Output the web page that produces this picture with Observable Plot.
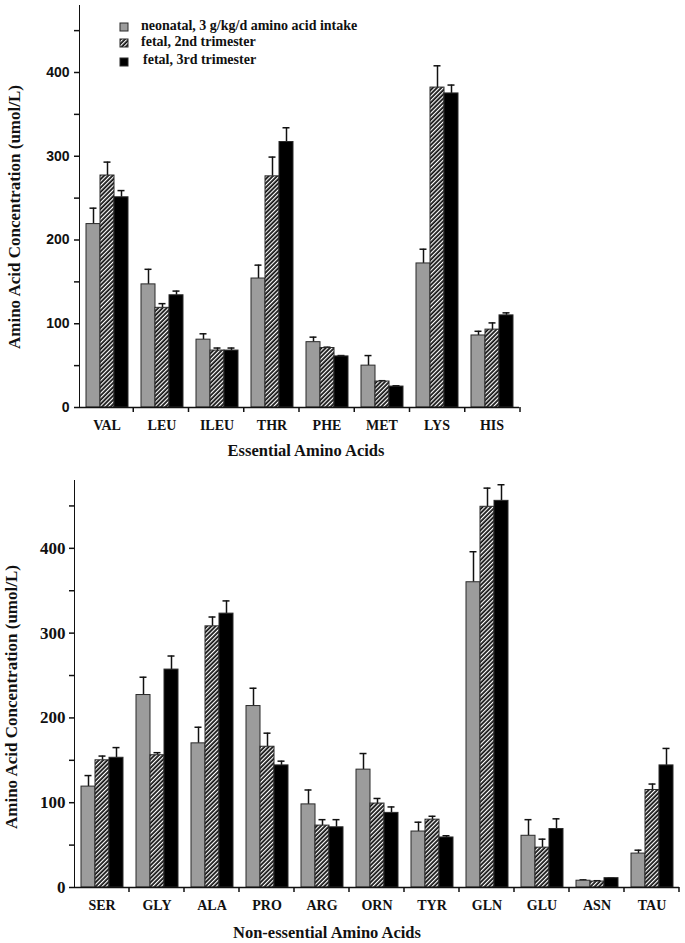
<!DOCTYPE html>
<html>
<head>
<meta charset="utf-8">
<script src="https://cdn.jsdelivr.net/npm/d3@7"></script>
<script src="https://cdn.jsdelivr.net/npm/@observablehq/plot@0.6"></script>
<style>
  body { margin: 0; background: #fff; }
  #page { position: relative; width: 685px; height: 943px; overflow: hidden; background: #fff;
          font-family: "Liberation Serif", "Times New Roman", serif; font-weight: bold; color: #111; }
  .chart { position: absolute; left: 0; }
  #top svg [aria-label^="y-axis"] text { font-family: "Liberation Sans", Arial, sans-serif; font-size: 14px; font-weight: bold; }
  #bottom svg [aria-label^="y-axis"] text { font-family: "Liberation Serif", serif; font-size: 17px; font-weight: bold; }
  svg [aria-label^="fx-axis"] text { font-family: "Liberation Serif", serif; font-size: 14px; font-weight: bold; }
  svg [aria-label^="y-axis"] path, svg [aria-label^="y-axis"] line { stroke-width: 1.5; }
  .title { position: absolute; white-space: nowrap; line-height: 1; }
  .xtitle { font-size: 16.5px; transform: translateX(-50%); }
  .ytitle { font-size: 17px; transform: translate(-50%, -50%) rotate(-90deg); }
  .leg { position: absolute; white-space: nowrap; line-height: 1; font-size: 14px; }
  .sw { position: absolute; }
</style>
</head>
<body>
<svg width="0" height="0" style="position:absolute">
  <defs>
    <pattern id="hatch" width="3" height="3" patternUnits="userSpaceOnUse" patternTransform="rotate(45)">
      <rect width="3" height="3" fill="#111"></rect>
      <rect width="1.2" height="3" fill="#fff"></rect>
    </pattern>
  </defs>
</svg>
<div id="page">
  <div id="top" class="chart" style="top:0"></div>
  <div id="bottom" class="chart" style="top:470px"></div>
  <div class="title xtitle" style="left:306px; top:443px">Essential Amino Acids</div>
  <div class="title xtitle" style="left:327px; top:925px">Non-essential Amino Acids</div>
  <div class="title ytitle" style="left:14px; top:217px">Amino Acid Concentration (umol/L)</div>
  <div class="title ytitle" style="left:10.5px; top:697px">Amino Acid Concentration (umol/L)</div>
  <div id="legend"></div>
</div>
<script>
// ---- Data ----
const seriesKeys = ["neonatal", "fetal2", "fetal3"];
const seriesLabels = ["neonatal, 3 g/kg/d amino acid intake", "fetal, 2nd trimester", "fetal, 3rd trimester"];
const seriesFills = ["#9c9c9c", "url(#hatch)", "#000"];

const essentialAA = ["VAL", "LEU", "ILEU", "THR", "PHE", "MET", "LYS", "HIS"];
const essNeonatal    = [219, 147, 81, 154, 78, 50, 172, 86];
const essNeonatalErr = [19, 18, 7, 16, 6, 12, 17, 5];
const essFetal2      = [277, 119, 68, 276, 71, 31, 382, 93];
const essFetal2Err   = [16, 5, 3, 23, 1, 1, 26, 8];
const essFetal3      = [251, 134, 68, 317, 61, 25, 375, 110];
const essFetal3Err   = [8, 5, 3, 17, 1, 1, 10, 3];

const nonEssentialAA = ["SER", "GLY", "ALA", "PRO", "ARG", "ORN", "TYR", "GLN", "GLU", "ASN", "TAU"];
const neNeonatal    = [119, 227, 170, 214, 98, 139, 66, 360, 61, 8, 40];
const neNeonatalErr = [13, 21, 19, 21, 17, 19, 11, 36, 19, 1, 4];
const neFetal2      = [150, 156, 308, 166, 73, 99, 80, 449, 47, 7, 115];
const neFetal2Err   = [5, 3, 11, 16, 7, 6, 4, 22, 10, 1, 7];
const neFetal3      = [153, 257, 323, 144, 71, 88, 59, 456, 69, 11, 144];
const neFetal3Err   = [12, 16, 15, 5, 9, 7, 2, 19, 12, 0, 20];

const yTicks = [0, 50, 100, 150, 200, 250, 300, 350, 400, 450];
const yMax = 480;

function buildRows(cats, vals, errs) {
  const rows = [];
  cats.forEach((cat, i) => {
    seriesKeys.forEach((s, j) => rows.push({cat, series: s, v: vals[j][i], e: errs[j][i]}));
  });
  return rows;
}

function makeChart(cats, vals, errs, m) {
  const rows = buildRows(cats, vals, errs);
  const chart = Plot.plot({
    width: 685,
    height: m.height,
    marginLeft: m.left,
    marginRight: m.right,
    marginTop: m.top,
    marginBottom: m.bottom,
    style: {fontFamily: "Liberation Serif, serif", fontWeight: "bold", fontSize: "14px", color: "#111", background: "transparent", overflow: "visible"},
    facet: {data: rows, x: "cat"},
    fx: {domain: cats, padding: 0, axis: "bottom", tickSize: 0, tickPadding: 13, label: null},
    x: {domain: seriesKeys, axis: null, paddingInner: 0, paddingOuter: 0.34},
    y: {domain: [0, yMax], ticks: yTicks, tickFormat: d => (d % 100 === 0 ? String(d) : ""),
        tickSize: m.tickSize, tickPadding: m.tickPadding, line: true, label: null},
    color: {type: "ordinal", domain: seriesKeys, range: seriesFills},
    marks: [
      Plot.ruleX(rows, {x: "series", y1: "v", y2: d => d.v + d.e, stroke: "#111", strokeWidth: 1.5}),
      Plot.tickY(rows, {x: "series", y: d => d.v + d.e, stroke: "#111", strokeWidth: 1.5, insetLeft: 3.5, insetRight: 3.5}),
      Plot.barY(rows, {x: "series", y1: d => 0, y2: "v", fill: "series", stroke: "#2a2a2a", strokeWidth: 1}),
      Plot.ruleY([0], {stroke: "#111", strokeWidth: 1.5})
    ]
  });
  // group boundary ticks on the x axis, derived from the fx scale
  const fx = chart.scale("fx");
  const band = d3.scaleBand().domain(fx.domain).range(fx.range).padding(0);
  const y0 = m.height - m.bottom;
  const g = d3.select(chart).append("g").attr("stroke", "#111").attr("stroke-width", 1.5);
  const xs = fx.domain.slice(1).map(d => band(d)).concat([band.range()[1]]);
  xs.forEach(x => g.append("line").attr("x1", x).attr("x2", x).attr("y1", y0).attr("y2", y0 + 5));
  return chart;
}

document.getElementById("top").appendChild(
  makeChart(essentialAA,
    [essNeonatal, essFetal2, essFetal3],
    [essNeonatalErr, essFetal2Err, essFetal3Err],
    {height: 440, left: 78, right: 165, top: 5, bottom: 33, tickSize: 5, tickPadding: 5})
);
document.getElementById("bottom").appendChild(
  makeChart(nonEssentialAA,
    [neNeonatal, neFetal2, neFetal3],
    [neNeonatalErr, neFetal2Err, neFetal3Err],
    {height: 473, left: 74, right: 6, top: 10, bottom: 56, tickSize: 5, tickPadding: 4})
);

// legend
const legend = document.getElementById("legend");
const legRows = [{cy: 26.5, tx: 141, base: 31}, {cy: 42.5, tx: 141, base: 47}, {cy: 61.5, tx: 143, base: 65}];
seriesKeys.forEach((s, i) => {
  const r = legRows[i];
  const sw = document.createElementNS("http://www.w3.org/2000/svg", "svg");
  sw.setAttribute("class", "sw");
  sw.setAttribute("width", 10);
  sw.setAttribute("height", 10);
  sw.style.left = "119px";
  sw.style.top = (r.cy - 5) + "px";
  const rect = document.createElementNS("http://www.w3.org/2000/svg", "rect");
  rect.setAttribute("x", 1); rect.setAttribute("y", 1);
  rect.setAttribute("width", 8); rect.setAttribute("height", 8);
  rect.setAttribute("fill", seriesFills[i]);
  rect.setAttribute("stroke", "#2a2a2a");
  rect.setAttribute("stroke-width", 1);
  sw.appendChild(rect);
  legend.appendChild(sw);
  const t = document.createElement("div");
  t.className = "leg";
  t.textContent = seriesLabels[i];
  t.style.left = r.tx + "px";
  t.style.top = (r.base - 11.7) + "px";
  legend.appendChild(t);
});
</script>
</body>
</html>
